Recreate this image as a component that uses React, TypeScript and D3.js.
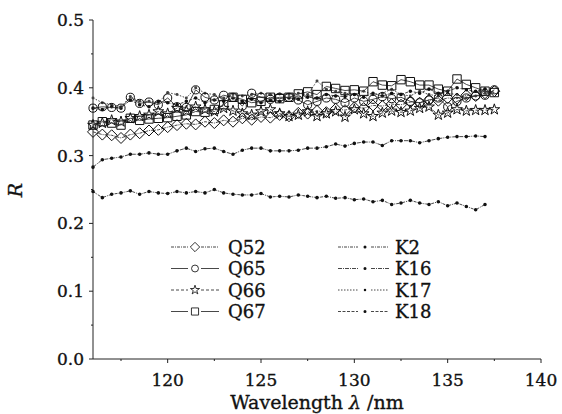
import React from "react";
import * as d3 from "d3";

const wavelengths = [116, 116.5, 117, 117.5, 118, 118.5, 119, 119.5, 120, 120.5, 121, 121.5, 122, 122.5, 123, 123.5, 124, 124.5, 125, 125.5, 126, 126.5, 127, 127.5, 128, 128.5, 129, 129.5, 130, 130.5, 131, 131.5, 132, 132.5, 133, 133.5, 134, 134.5, 135, 135.5, 136, 136.5, 137, 137.5];

const Q52 = [0.335, 0.331, 0.33, 0.326, 0.331, 0.333, 0.337, 0.338, 0.342, 0.345, 0.347, 0.346, 0.35, 0.348, 0.352, 0.35, 0.355, 0.353, 0.357, 0.356, 0.36, 0.358, 0.363, 0.362, 0.366, 0.364, 0.369, 0.367, 0.371, 0.37, 0.374, 0.373, 0.376, 0.375, 0.379, 0.378, 0.382, 0.381, 0.385, 0.384, 0.389, 0.388, 0.392, 0.395];
const Q65 = [0.37, 0.372, 0.371, 0.37, 0.386, 0.377, 0.379, 0.375, 0.385, 0.372, 0.371, 0.397, 0.386, 0.382, 0.389, 0.386, 0.373, 0.392, 0.386, 0.383, 0.386, 0.386, 0.382, 0.375, 0.38, 0.385, 0.383, 0.378, 0.385, 0.38, 0.383, 0.387, 0.384, 0.386, 0.38, 0.378, 0.382, 0.385, 0.372, 0.38, 0.385, 0.388, 0.389, 0.397];
const Q66 = [0.345, 0.348, 0.352, 0.35, 0.355, 0.358, 0.36, 0.365, 0.362, 0.37, 0.366, 0.372, 0.368, 0.365, 0.37, 0.366, 0.362, 0.36, 0.365, 0.368, 0.362, 0.358, 0.36, 0.365, 0.358, 0.362, 0.365, 0.357, 0.368, 0.362, 0.358, 0.363, 0.366, 0.364, 0.366, 0.37, 0.372, 0.36, 0.363, 0.368, 0.366, 0.367, 0.367, 0.368];
const Q67 = [0.345, 0.35, 0.348, 0.345, 0.355, 0.352, 0.354, 0.355, 0.356, 0.358, 0.36, 0.365, 0.364, 0.368, 0.375, 0.386, 0.383, 0.378, 0.38, 0.386, 0.384, 0.386, 0.391, 0.394, 0.39, 0.402, 0.399, 0.396, 0.397, 0.395, 0.409, 0.404, 0.403, 0.412, 0.409, 0.404, 0.404, 0.398, 0.395, 0.413, 0.405, 0.4, 0.395, 0.393];

const K2 = [0.247, 0.238, 0.243, 0.245, 0.248, 0.243, 0.247, 0.245, 0.244, 0.247, 0.245, 0.247, 0.245, 0.25, 0.245, 0.243, 0.242, 0.242, 0.244, 0.239, 0.24, 0.239, 0.242, 0.24, 0.238, 0.24, 0.237, 0.238, 0.235, 0.236, 0.232, 0.234, 0.228, 0.23, 0.234, 0.23, 0.228, 0.232, 0.226, 0.23, 0.225, 0.22, 0.228];
const K16 = [0.283, 0.294, 0.296, 0.298, 0.302, 0.302, 0.304, 0.302, 0.302, 0.307, 0.311, 0.306, 0.31, 0.311, 0.306, 0.302, 0.308, 0.311, 0.311, 0.307, 0.307, 0.307, 0.308, 0.311, 0.311, 0.313, 0.317, 0.314, 0.318, 0.32, 0.32, 0.315, 0.322, 0.322, 0.322, 0.319, 0.322, 0.325, 0.327, 0.328, 0.328, 0.329, 0.328];
const K17 = [0.385, 0.378, 0.375, 0.372, 0.387, 0.38, 0.38, 0.378, 0.393, 0.39, 0.385, 0.4, 0.392, 0.39, 0.385, 0.39, 0.388, 0.39, 0.392, 0.39, 0.391, 0.39, 0.392, 0.39, 0.41, 0.398, 0.395, 0.392, 0.39, 0.395, 0.39, 0.392, 0.398, 0.39, 0.388, 0.395, 0.39, 0.388, 0.392, 0.39, 0.385, 0.388, 0.392];
const K18 = [0.37, 0.368, 0.372, 0.37, 0.382, 0.375, 0.372, 0.38, 0.378, 0.375, 0.38, 0.385, 0.378, 0.382, 0.38, 0.385, 0.38, 0.383, 0.378, 0.382, 0.38, 0.385, 0.383, 0.386, 0.385, 0.39, 0.388, 0.387, 0.39, 0.386, 0.392, 0.388, 0.392, 0.39, 0.395, 0.392, 0.398, 0.392, 0.395, 0.4, 0.397, 0.395, 0.398];

const xTicks = [120, 125, 130, 135, 140];
const xMinorTicks = [117.5, 122.5, 127.5, 132.5, 137.5];
const yTicks = [0.0, 0.1, 0.2, 0.3, 0.4, 0.5];
const yMinorTicks = [0.05, 0.15, 0.25, 0.35, 0.45];

type Marker = "diamond" | "circle" | "star" | "square" | "dot" | "smalldot";
interface Series { name: string; values: number[]; marker: Marker; dash: string; }

const qSeries: Series[] = [
  { name: "Q52", values: Q52, marker: "diamond", dash: "3,1,1,1" },
  { name: "Q65", values: Q65, marker: "circle", dash: "none" },
  { name: "Q66", values: Q66, marker: "star", dash: "3,2" },
  { name: "Q67", values: Q67, marker: "square", dash: "none" },
];
const kSeries: Series[] = [
  { name: "K2", values: K2, marker: "dot", dash: "3,1,1,1" },
  { name: "K16", values: K16, marker: "dot", dash: "4,1,1,1" },
  { name: "K17", values: K17, marker: "smalldot", dash: "1.5,1.5" },
  { name: "K18", values: K18, marker: "dot", dash: "3,1.5" },
];

const FONT = "'DejaVu Serif', serif";

function markerPath(m: Marker): string {
  switch (m) {
    case "diamond": return "M0,-5.5L5.5,0L0,5.5L-5.5,0Z";
    case "circle": return d3.symbol(d3.symbolCircle, 52)() as string;
    case "star": return d3.symbol(d3.symbolStar, 36)() as string;
    case "square": return "M-4.2,-4.2H4.2V4.2H-4.2Z";
    case "dot": return d3.symbol(d3.symbolCircle, 10)() as string;
    case "smalldot": return d3.symbol(d3.symbolCircle, 7)() as string;
  }
}

const textProps = { fontFamily: FONT, fill: "#111", stroke: "#111", strokeWidth: 0.35 };

export default function App() {
  const W = 562, H = 414;
  const x = d3.scaleLinear().domain([116, 140]).range([93, 541]);
  const y = d3.scaleLinear().domain([0, 0.5]).range([359, 20]);

  const lineGen = d3.line<[number, number]>().x(d => x(d[0])).y(d => y(d[1]));

  const drawSeries = (s: Series) => {
    const pts: [number, number][] = s.values.map((v, i) => [wavelengths[i], v]);
    const path = markerPath(s.marker);
    const isQ = ["diamond", "circle", "star", "square"].includes(s.marker);
    return (
      <g key={s.name}>
        <path d={lineGen(pts) as string} fill="none" stroke="#333" strokeWidth={0.9}
          strokeDasharray={s.dash === "none" ? undefined : s.dash} />
        {pts.map((p, i) => (
          <path key={i} d={path} transform={`translate(${x(p[0])},${y(p[1])})`}
            fill={isQ ? "none" : (s.marker === "smalldot" ? "#444" : "#111")}
            stroke={isQ ? "#111" : "none"} strokeWidth={1} />
        ))}
      </g>
    );
  };

  const legendRow = (s: Series, i: number, lx: number, mx: number, tx: number) => {
    const ly = 247 + i * 21.5;
    const filled = ["dot", "smalldot"].includes(s.marker);
    return (
      <g key={s.name}>
        <line x1={lx} x2={mx - 7} y1={ly} y2={ly} stroke="#333" strokeWidth={0.9}
          strokeDasharray={s.dash === "none" ? undefined : s.dash} />
        <line x1={mx + 6} x2={mx + 24} y1={ly} y2={ly} stroke="#333" strokeWidth={0.9}
          strokeDasharray={s.dash === "none" ? undefined : s.dash} />
        <path d={markerPath(s.marker)} transform={`translate(${mx},${ly}) scale(0.85)`}
          fill={filled ? "#111" : "#fff"}
          stroke={filled ? "none" : "#111"} strokeWidth={1} />
        <text x={tx} y={ly + 6.5} fontSize={18} {...textProps}>{s.name}</text>
      </g>
    );
  };

  return (
    <svg width={W} height={H} style={{ position: "absolute", left: 0, top: 0, background: "#fff" }}>
      <rect width={W} height={H} fill="#fff" />
      {/* axes */}
      <line x1={93} x2={93} y1={y(0.5)} y2={y(0)} stroke="#222" strokeWidth={1} />
      <line x1={93} x2={541} y1={y(0)} y2={y(0)} stroke="#222" strokeWidth={1} />
      {yTicks.map(t => (
        <g key={"y" + t}>
          <line x1={89} x2={93} y1={y(t)} y2={y(t)} stroke="#222" />
          <text x={84} y={y(t) + 6} textAnchor="end" fontSize={17} {...textProps}>{t.toFixed(1)}</text>
        </g>
      ))}
      {yMinorTicks.map(t => (
        <line key={"ym" + t} x1={91} x2={93} y1={y(t)} y2={y(t)} stroke="#222" />
      ))}
      {xTicks.map(t => (
        <g key={"x" + t}>
          <line x1={x(t)} x2={x(t)} y1={359} y2={363} stroke="#222" />
          <text x={x(t)} y={386} textAnchor="middle" fontSize={17} {...textProps}>{t}</text>
        </g>
      ))}
      {xMinorTicks.map(t => (
        <line key={"xm" + t} x1={x(t)} x2={x(t)} y1={359} y2={361} stroke="#222" />
      ))}
      <text x={317} y={409} textAnchor="middle" fontSize={19} {...textProps}>
        Wavelength <tspan fontStyle="italic">λ</tspan> /nm
      </text>
      <text transform="translate(22,190) rotate(-90)" textAnchor="middle"
        fontSize={19} fontStyle="italic" {...textProps}>R</text>

      {/* data */}
      {kSeries.map(drawSeries)}
      {qSeries.map(drawSeries)}

      {/* legend */}
      {qSeries.map((s, i) => legendRow(s, i, 171, 195, 228))}
      {kSeries.map((s, i) => legendRow(s, i, 338, 365, 395))}
    </svg>
  );
}
